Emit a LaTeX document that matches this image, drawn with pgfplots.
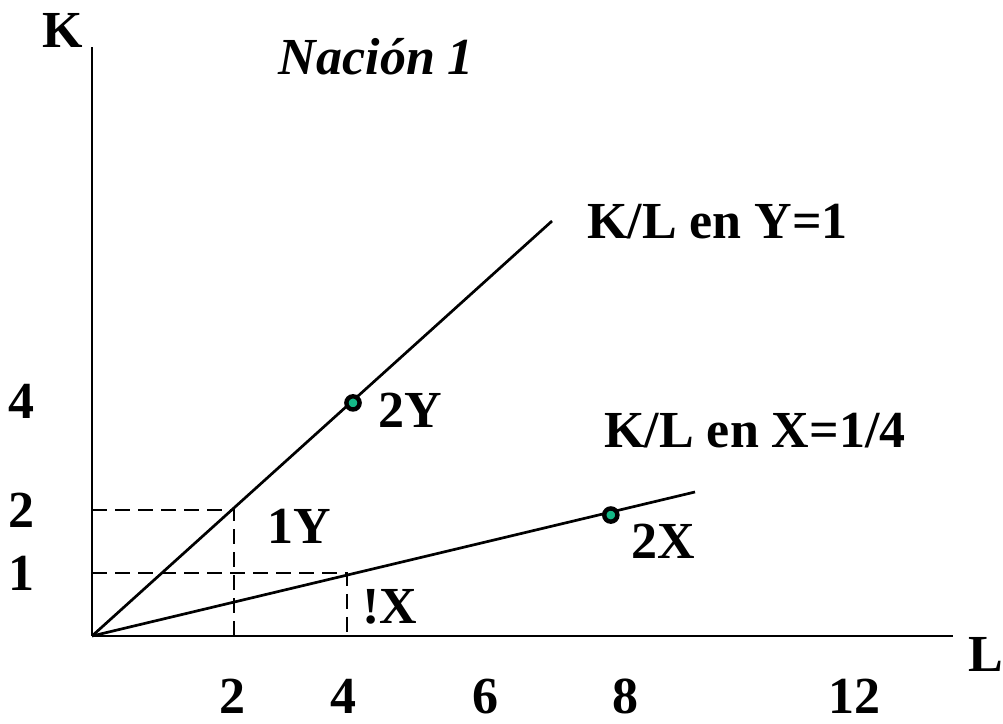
\documentclass[border=0pt]{standalone}
\usepackage{fontspec}
\setmainfont{Liberation Serif}
\usepackage{pgfplots}
\pgfplotsset{compat=1.18}
\definecolor{dotgreen}{HTML}{14B886}
\newcommand{\lbl}{\fontsize{26}{30}\selectfont\bfseries}
\begin{document}
\begin{tikzpicture}
\begin{axis}[
  x=31.75pt, y=31.5pt,
  xmin=0, xmax=13.56, ymin=0, ymax=9.35,
  axis lines=left,
  axis line style={-, line width=1.4pt},
  clip=false,
  major tick length=0pt,
  xtick={2.205,3.953,6.189,8.409,12.0},
  xticklabels={2,4,6,8,12},
  ytick={1,2,3.73},
  yticklabels={1,2,4},
  /pgf/number format/assume math mode=true,
  ticklabel style={font=\lbl},
  xticklabel style={anchor=base, inner sep=0pt, yshift=-38.5pt},
  yticklabel style={anchor=center, xshift=-35.5pt},
]
% capital-labour rays of the two goods
\addplot[black, line width=1.35pt] coordinates {(0,0) (7.244,6.587)};
\addplot[black, line width=1.35pt] coordinates {(0,0) (9.496,2.286)};
% guide lines for one unit of each good
\addplot[black, line width=1.3pt, dash pattern=on 7.5pt off 4pt]
  coordinates {(0,2) (2.236,2) (2.236,0)};
\addplot[black, line width=1.3pt, dash pattern=on 7.5pt off 4pt]
  coordinates {(0,1) (4.016,1) (4.016,0)};
% two units of each good
\addplot[only marks, mark=*, mark size=3.3pt,
  mark options={draw=black, fill=dotgreen, line width=2.2pt}]
  coordinates {(4.11,3.70) (8.17,1.92)};
% labels
\node[anchor=base, font=\lbl] at (axis cs:-0.465,9.349) {K};
\node[anchor=base, font=\lbl] at (axis cs:14.079,-0.571) {L};
\node[anchor=base, font=\lbl\itshape] at (axis cs:4.480,8.905) {Nación 1};
\node[anchor=base, font=\lbl] at (axis cs:9.850,6.302) {K/L en Y=1};
\node[anchor=base, font=\lbl] at (axis cs:10.441,3.0) {K/L en X=1/4};
\node[anchor=base, font=\lbl] at (axis cs:5.008,3.317) {2Y};
\node[anchor=base, font=\lbl] at (axis cs:3.260,1.476) {1Y};
\node[anchor=base, font=\lbl] at (axis cs:9.0,1.238) {2X};
\node[anchor=base, font=\lbl] at (axis cs:4.693,0.206) {!X};
\coordinate (BL) at (axis cs:-1.449,-1.381);
\coordinate (TR) at (axis cs:14.346,10.095);
\end{axis}
\pgfresetboundingbox
\path[use as bounding box] (BL) rectangle (TR);
\end{tikzpicture}
\end{document}
